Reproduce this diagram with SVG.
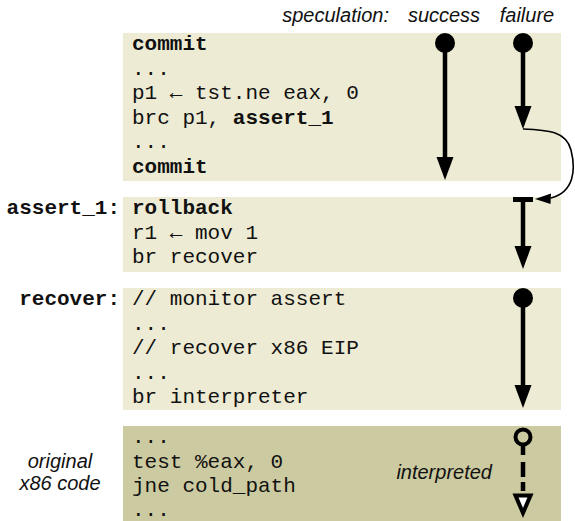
<svg xmlns="http://www.w3.org/2000/svg" width="575" height="521" viewBox="0 0 575 521">
<defs>
<style>
.bg{fill:#ffffff}
.lt{fill:#edebd3}
.dk{fill:#cccaa0}
.code{font-family:"Liberation Mono","Courier New",monospace;font-size:21px;fill:#111}
.b{font-weight:bold}
.lbl{font-family:"Liberation Mono","Courier New",monospace;font-size:21px;font-weight:bold;fill:#111;text-anchor:end}
.it{font-family:"Liberation Sans",Arial,sans-serif;font-style:italic;font-size:20px;fill:#111}
.ln{stroke:#000;stroke-width:4.5;fill:none}
.hd{fill:#000}
</style>
</defs>
<rect class="bg" x="0" y="0" width="575" height="521"/>
<g id="header">
<text class="it" x="389" y="22" text-anchor="end" font-size="20.5">speculation:</text>
<text class="it" x="444" y="22" text-anchor="middle" font-size="20.5">success</text>
<text class="it" x="527" y="22" text-anchor="middle" font-size="20.5">failure</text>
</g>
<g id="block-commit">
<rect class="lt" x="123" y="33" width="438" height="148"/>
<text class="code" x="132"><tspan class="b" x="132" y="50">commit</tspan><tspan x="132" y="74.6">...</tspan><tspan x="132" y="99.2">p1 ← tst.ne eax, 0</tspan><tspan x="132" y="123.8">brc p1, <tspan class="b">assert_1</tspan></tspan><tspan x="132" y="148.4">...</tspan><tspan class="b" x="132" y="173">commit</tspan></text>
</g>
<g id="block-assert">
<rect class="lt" x="123" y="197" width="438" height="75"/>
<text class="lbl" x="120" y="214">assert_1:</text>
<text class="code" x="132"><tspan class="b" x="132" y="214">rollback</tspan><tspan x="132" y="238.6">r1 ← mov 1</tspan><tspan x="132" y="263.2">br recover</tspan></text>
</g>
<g id="block-recover">
<rect class="lt" x="123" y="288" width="438" height="122"/>
<text class="lbl" x="120" y="305">recover:</text>
<text class="code" x="132"><tspan x="132" y="305">// monitor assert</tspan><tspan x="132" y="329.6">...</tspan><tspan x="132" y="354.2">// recover x86 EIP</tspan><tspan x="132" y="378.8">...</tspan><tspan x="132" y="403.4">br interpreter</tspan></text>
</g>
<g id="block-x86">
<rect class="dk" x="123" y="426" width="438" height="95"/>
<text class="it" x="60" y="468" text-anchor="middle">original</text>
<text class="it" x="60" y="490" text-anchor="middle">x86 code</text>
<text class="code" x="132"><tspan x="132" y="443">...</tspan><tspan x="132" y="467.6">test %eax, 0</tspan><tspan x="132" y="492.2">jne cold_path</tspan><tspan x="132" y="515.5">...</tspan></text>
<text class="it" x="492" y="479" text-anchor="end">interpreted</text>
</g>
<g id="connectors">
<circle cx="445" cy="43" r="10" class="hd"/>
<line class="ln" x1="445" y1="43" x2="445" y2="160"/>
<polygon class="hd" points="436.5,157 453.5,157 445,180"/>
<circle cx="523" cy="43" r="10" class="hd"/>
<line class="ln" x1="523" y1="43" x2="523" y2="109"/>
<polygon class="hd" points="514.5,106 531.5,106 523,129"/>
<path d="M523,129 C548,130 566,131 571,150 C576,170 574,192 551,198" fill="none" stroke="#000" stroke-width="1.6"/>
<polygon class="hd" points="535,199 551,193.5 550.5,204"/>
<rect x="513" y="197" width="20" height="5" class="hd"/>
<line class="ln" x1="523" y1="199" x2="523" y2="249"/>
<polygon class="hd" points="514.5,246 531.5,246 523,269"/>
<circle cx="523" cy="298" r="10" class="hd"/>
<line class="ln" x1="523" y1="298" x2="523" y2="388"/>
<polygon class="hd" points="514.5,385 531.5,385 523,408"/>
<circle cx="523" cy="437" r="7.5" fill="none" stroke="#000" stroke-width="4"/>
<path d="M523,445 V493" fill="none" stroke="#000" stroke-width="4.5" stroke-dasharray="10,7,15,5,9,20"/>
<polygon points="515.5,495.5 530.5,495.5 523,513" fill="#ffffff" stroke="#000" stroke-width="4" stroke-linejoin="miter"/>
</g>
</svg>
